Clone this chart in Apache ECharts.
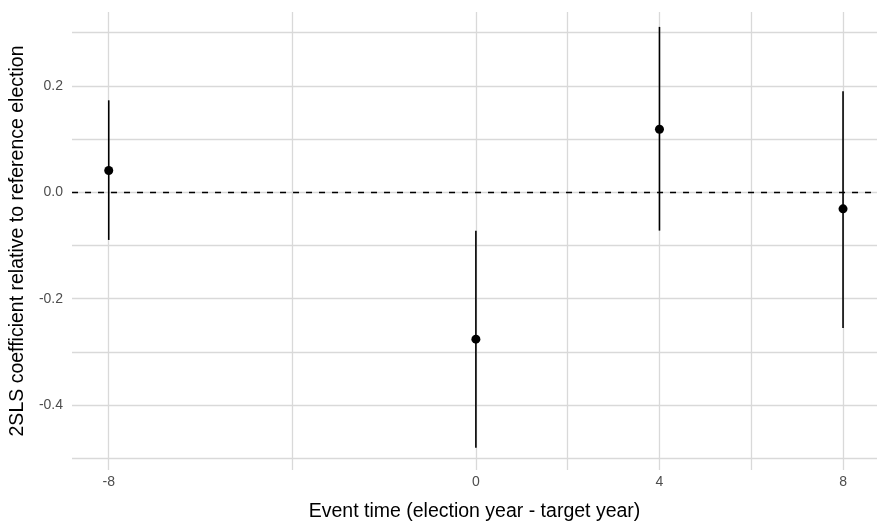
<!DOCTYPE html>
<html><head><meta charset="utf-8">
<script src="https://cdn.jsdelivr.net/npm/echarts@6/dist/echarts.min.js"></script>
<style>html,body{margin:0;padding:0;background:#fff}#c{width:877px;height:527px}</style>
</head><body><div id="c"></div>
<script>
const eventTimes = [-8, 0, 4, 8];
const estimates = [0.041, -0.276, 0.1185, -0.031];
const ciLow = [-0.0895, -0.48, -0.072, -0.255];
const ciHigh = [0.173, -0.072, 0.311, 0.19];
const xLabels = [-8, 0, 4, 8];
const xGrid = [-8, -4, 0, 2, 4, 6, 8];
const yLabels = [-0.4, -0.2, 0.0, 0.2];
const yGrid = [-0.5, -0.4, -0.3, -0.2, -0.1, 0.0, 0.1, 0.2, 0.3];

const font = 'Liberation Sans, Arial, sans-serif';
const chart = echarts.init(document.getElementById('c'), null, {renderer: 'canvas'});
chart.setOption({
  animation: false,
  grid: {left: 72, right: 0, top: 12, bottom: 50, containLabel: false},
  xAxis: {
    type: 'value', min: -8.8, max: 8.74,
    name: 'Event time (election year - target year)',
    nameLocation: 'middle', nameGap: 32,
    nameTextStyle: {color: '#000', fontSize: 19.5, fontFamily: font},
    axisLine: {show: false},
    axisTick: {show: false, customValues: xGrid},
    axisLabel: {customValues: xLabels, color: '#4d4d4d', fontSize: 14, fontFamily: font, margin: 5,
      formatter: v => String(v)},
    splitLine: {show: true, lineStyle: {color: '#d9d9d9', width: 1.3}}
  },
  yAxis: {
    type: 'value', min: -0.522, max: 0.339,
    name: '2SLS coefficient relative to reference election',
    nameLocation: 'middle', nameGap: 40, nameRotate: 90,
    nameTextStyle: {color: '#000', fontSize: 19.5, fontFamily: font},
    axisLine: {show: false},
    axisTick: {show: false, customValues: yGrid},
    axisLabel: {customValues: yLabels, color: '#4d4d4d', fontSize: 14, fontFamily: font, margin: 9,
      formatter: v => v.toFixed(1)},
    splitLine: {show: true, lineStyle: {color: '#d9d9d9', width: 1.3}}
  },
  series: [
    {
      type: 'custom',
      silent: true,
      data: eventTimes.map((x, i) => [x, ciLow[i], ciHigh[i]]),
      renderItem: (params, api) => {
        const p1 = api.coord([api.value(0), api.value(1)]);
        const p2 = api.coord([api.value(0), api.value(2)]);
        return {type: 'line', shape: {x1: p1[0], y1: p1[1], x2: p2[0], y2: p2[1]},
          style: {stroke: '#000', lineWidth: 1.6}};
      },
      z: 3,
      markLine: {
        silent: true, symbol: 'none', label: {show: false},
        lineStyle: {color: '#000', type: [6, 7], width: 1.4},
        data: [{yAxis: 0}]
      }
    },
    {
      type: 'scatter',
      silent: true,
      symbol: 'circle', symbolSize: 9,
      itemStyle: {color: '#000', opacity: 1},
      data: eventTimes.map((x, i) => [x, estimates[i]]),
      z: 4
    }
  ]
});
</script></body></html>
